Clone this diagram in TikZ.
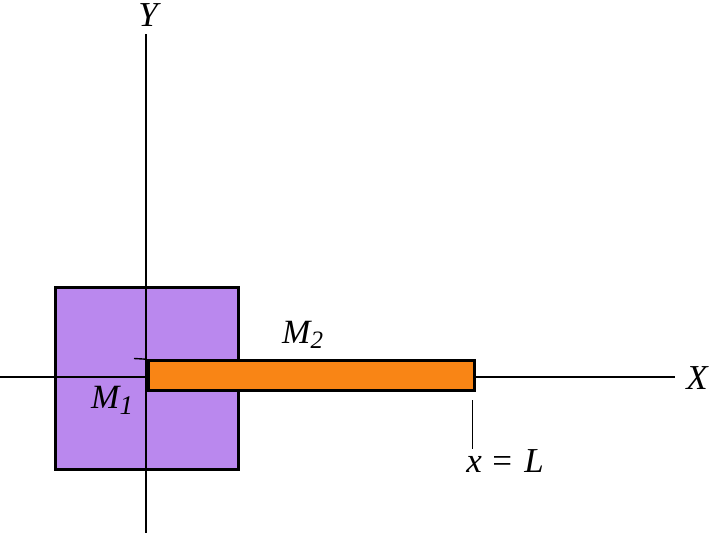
\documentclass[tikz,border=0pt]{standalone}
\usepackage{fontspec}
\setmainfont{Liberation Serif}
\definecolor{boxpurple}{HTML}{BA88EE}
\definecolor{barorange}{HTML}{F98515}
\tikzset{
  axis/.style={line width=1.5pt, black},
  tickline/.style={line width=1.4pt, black},
  mass/.style={draw=black, line width=3pt, inner sep=0pt},
  lbl/.style={font=\fontsize{35}{35}\selectfont\itshape, inner sep=0pt},
}
\newcommand{\masslabel}[4]{{\fontsize{#1}{#1}\selectfont\itshape M}\raisebox{-#3pt}{\fontsize{#2}{#2}\selectfont\itshape #4}}
\begin{document}
\begin{tikzpicture}[x=1pt,y=-1pt]
\useasboundingbox (0,0) rectangle (713,533);
% purple block
\node[mass, fill=boxpurple, minimum width=182.5pt, minimum height=182pt, anchor=north west] (m1) at (54.2,285.7) {};
% axes
\coordinate (xa) at (0,377);
\coordinate (xb) at (675,377);
\coordinate (ya) at (146,34);
\coordinate (yb) at (146,533);
\draw[axis] (xa) -- (xb);
\draw[axis] (ya) -- (yb);
% orange bar
\node[mass, fill=barorange, minimum width=326pt, minimum height=30pt, anchor=north west] (m2) at (146.5,359.2) {};
% small tick at top-left of bar
\coordinate (tk) at (134,358.5);
\draw[tickline] (tk) -- (m2.north west);
% tick below bar end
\coordinate (la) at (472.5,400);
\coordinate (lb) at (472.5,449);
\draw[tickline] (la) -- (lb);
% labels
\node[lbl, anchor=base] (ylab) at (148,26) {Y};
\node[lbl, anchor=base] (xlab) at (697,389) {X};
\node[inner sep=0pt, anchor=base west] (m1lab) at (91,408) {\masslabel{34}{27}{6}{1}};
\node[inner sep=0pt, anchor=base west] (m2lab) at (282,343) {\masslabel{34}{25}{5}{2}};
\node[lbl, anchor=base] (llab) at (505,472) {x\hspace{0.3em}{\upshape =}\hspace{0.35em}L};
\end{tikzpicture}
\end{document}
